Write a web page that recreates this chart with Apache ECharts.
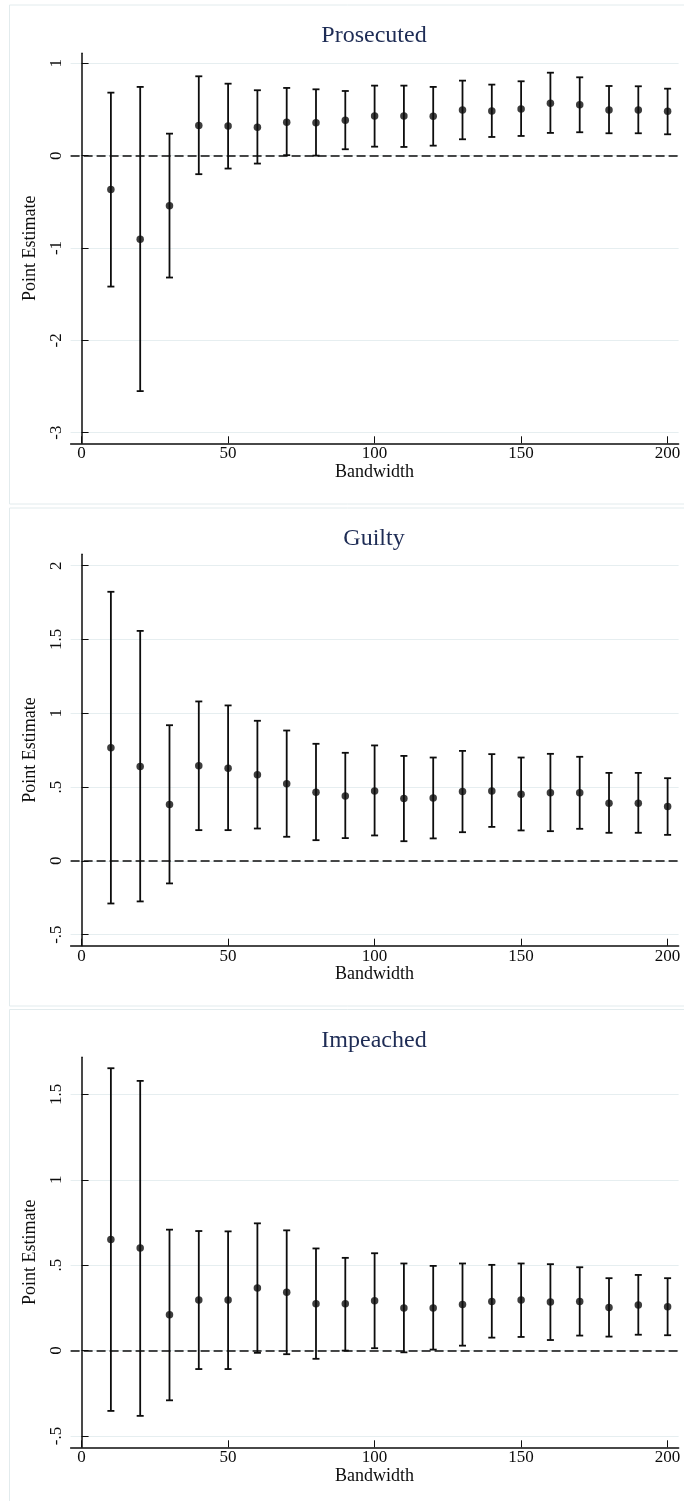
<!DOCTYPE html>
<html>
<head>
<meta charset="utf-8">
<script src="https://cdn.jsdelivr.net/npm/echarts@6/dist/echarts.min.js"></script>
<style>
  html, body { margin: 0; padding: 0; background: #fff; }
  #main { width: 684px; height: 1501px; }
</style>
</head>
<body>
<div id="main"></div>
<script>
// bandwidths (x axis)
var bandwidths = [10, 20, 30, 40, 50, 60, 70, 80, 90, 100, 110, 120, 130, 140, 150, 160, 170, 180, 190, 200];

// Prosecuted
var prosEst = [-0.368, -0.905, -0.544, 0.325, 0.321, 0.307, 0.361, 0.357, 0.383, 0.43, 0.43, 0.426, 0.495, 0.484, 0.505, 0.567, 0.552, 0.495, 0.495, 0.48];
var prosLo = [-1.418, -2.55, -1.32, -0.201, -0.14, -0.086, 0.005, 0.0, 0.069, 0.097, 0.094, 0.108, 0.177, 0.202, 0.213, 0.246, 0.253, 0.242, 0.242, 0.231];
var prosHi = [0.682, 0.744, 0.238, 0.859, 0.779, 0.708, 0.733, 0.718, 0.70, 0.758, 0.758, 0.744, 0.812, 0.769, 0.805, 0.898, 0.848, 0.754, 0.751, 0.725];

// Guilty
var guiltEst = [0.766, 0.64, 0.382, 0.644, 0.628, 0.583, 0.522, 0.465, 0.44, 0.474, 0.423, 0.425, 0.47, 0.474, 0.452, 0.461, 0.461, 0.391, 0.391, 0.368];
var guiltLo = [-0.289, -0.275, -0.153, 0.208, 0.208, 0.219, 0.163, 0.14, 0.154, 0.172, 0.133, 0.152, 0.194, 0.23, 0.206, 0.201, 0.217, 0.19, 0.19, 0.176];
var guiltHi = [1.823, 1.558, 0.919, 1.08, 1.053, 0.949, 0.883, 0.793, 0.732, 0.782, 0.711, 0.70, 0.745, 0.723, 0.70, 0.725, 0.705, 0.596, 0.596, 0.56];

// Impeached
var impEst = [0.65, 0.601, 0.21, 0.296, 0.296, 0.367, 0.342, 0.275, 0.275, 0.292, 0.249, 0.249, 0.27, 0.288, 0.296, 0.284, 0.288, 0.253, 0.267, 0.257];
var impLo = [-0.353, -0.382, -0.291, -0.108, -0.108, -0.013, -0.021, -0.048, 0.0, 0.014, -0.01, 0.006, 0.029, 0.076, 0.08, 0.062, 0.088, 0.082, 0.093, 0.09];
var impHi = [1.653, 1.579, 0.708, 0.70, 0.698, 0.745, 0.704, 0.598, 0.543, 0.57, 0.51, 0.496, 0.51, 0.502, 0.51, 0.506, 0.488, 0.424, 0.443, 0.424];

// tick labels
var xTicks = [0, 50, 100, 150, 200];
var prosTicks = [-3, -2, -1, 0, 1];
var guiltTicks = [-0.5, 0, 0.5, 1, 1.5, 2];
var impTicks = [-0.5, 0, 0.5, 1, 1.5];

var titles = ['Prosecuted', 'Guilty', 'Impeached'];

var FONT = 'Liberation Serif';
var gridCol = '#e6eef0';
var ink = '#0d0d0d';

// panel layout: frame top, grid top, grid height, y range
var panels = [
  { frameTop: 5, frameBot: 504, top: 53.3, height: 390, ymin: -3.115, ymax: 1.108, ticks: prosTicks, est: prosEst, lo: prosLo, hi: prosHi },
  { frameTop: 508, frameBot: 1006, top: 554.3, height: 391.4, ymin: -0.575, ymax: 2.077, ticks: guiltTicks, est: guiltEst, lo: guiltLo, hi: guiltHi },
  { frameTop: 1009.5, frameBot: 1510, top: 1057.3, height: 390, ymin: -0.566, ymax: 1.717, ticks: impTicks, est: impEst, lo: impLo, hi: impHi }
];

function stataLabel(v) {
  return String(v).replace('0.', '.');
}

function errorBar(params, api) {
  var x = api.value(0);
  var lo = api.coord([x, api.value(1)]);
  var hi = api.coord([x, api.value(2)]);
  var w = 3.5;
  var st = { stroke: ink, lineWidth: 1.8 };
  return {
    type: 'group',
    children: [
      { type: 'line', shape: { x1: lo[0], y1: lo[1], x2: hi[0], y2: hi[1] }, style: st },
      { type: 'line', shape: { x1: lo[0] - w, y1: lo[1], x2: lo[0] + w, y2: lo[1] }, style: st },
      { type: 'line', shape: { x1: hi[0] - w, y1: hi[1], x2: hi[0] + w, y2: hi[1] }, style: st }
    ]
  };
}

var grids = [], xAxes = [], yAxes = [], series = [], graphics = [];

panels.forEach(function (p, i) {
  graphics.push({
    type: 'rect', z: -10, silent: true,
    shape: { x: 9.5, y: p.frameTop, width: 690, height: p.frameBot - p.frameTop },
    style: { fill: '#fff', stroke: '#e2ebed', lineWidth: 1 }
  });
  graphics.push({
    type: 'text', z: 10,
    x: 374, y: p.frameTop + 31,
    style: { text: titles[i], align: 'center', verticalAlign: 'middle', fill: '#1e2c55', font: '24px "' + FONT + '"' }
  });

  grids.push({ left: 70.6, width: 608, top: p.top, height: p.height });

  xAxes.push({
    gridIndex: i, type: 'value', min: -3.75, max: 203.75,
    name: 'Bandwidth', nameLocation: 'middle', nameGap: 20,
    nameTextStyle: { fontFamily: FONT, fontSize: 18, color: ink },
    axisLine: { onZero: false, lineStyle: { color: ink, width: 1.5 } },
    axisTick: { inside: true, length: 7, customValues: xTicks, lineStyle: { color: ink, width: 1 } },
    axisLabel: { customValues: xTicks, margin: 2, fontFamily: FONT, fontSize: 17, color: ink },
    splitLine: { show: false }
  });

  yAxes.push({
    gridIndex: i, type: 'value', min: p.ymin, max: p.ymax,
    name: 'Point Estimate', nameLocation: 'middle', nameGap: 25,
    nameTextStyle: { fontFamily: FONT, fontSize: 18, color: ink },
    axisLine: { show: true, lineStyle: { color: ink, width: 1.5 } },
    axisTick: { show: true, inside: true, length: 7, customValues: p.ticks, lineStyle: { color: ink, width: 1 } },
    axisLabel: { customValues: p.ticks, rotate: 90, margin: 6, fontFamily: FONT, fontSize: 17, color: ink, formatter: stataLabel },
    splitLine: { show: true, lineStyle: { color: gridCol, width: 1.2 } }
  });

  series.push({
    type: 'custom', xAxisIndex: i, yAxisIndex: i,
    renderItem: errorBar,
    encode: { x: 0, y: [1, 2] },
    data: bandwidths.map(function (b, k) { return [b, p.lo[k], p.hi[k]]; }),
    z: 3,
    markLine: {
      silent: true, symbol: 'none', label: { show: false },
      lineStyle: { color: ink, type: [9, 4], width: 1.5 },
      data: [{ yAxis: 0 }]
    }
  });

  series.push({
    type: 'scatter', xAxisIndex: i, yAxisIndex: i,
    symbol: 'circle', symbolSize: 7.5,
    itemStyle: { color: ink },
    data: bandwidths.map(function (b, k) { return [b, p.est[k]]; }),
    z: 4
  });
});

var chart = echarts.init(document.getElementById('main'));
chart.setOption({
  animation: false,
  backgroundColor: '#fff',
  graphic: graphics,
  grid: grids,
  xAxis: xAxes,
  yAxis: yAxes,
  series: series
});
</script>
</body>
</html>
